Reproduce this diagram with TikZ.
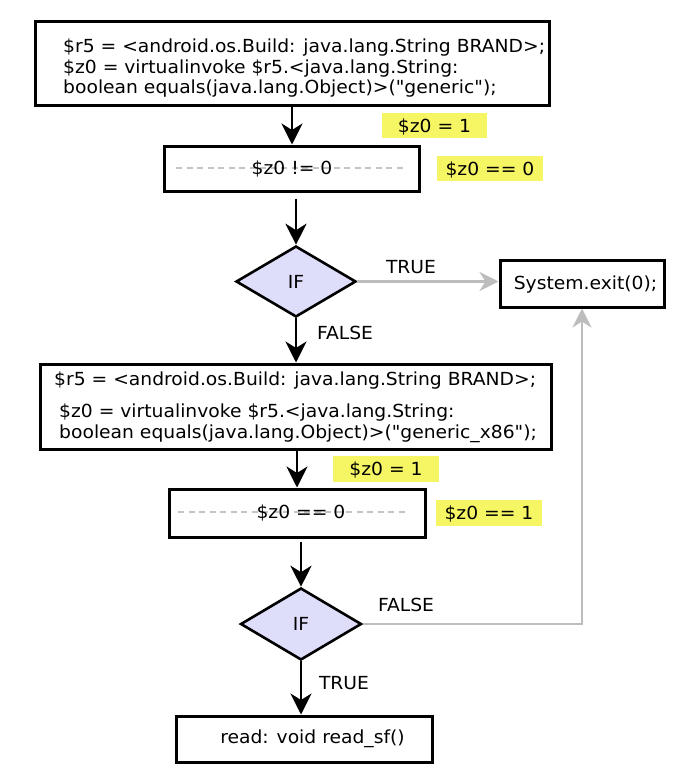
\documentclass[tikz,border=0pt]{standalone}
\usepackage{fontspec}
\setmainfont{DejaVu Sans}[FakeStretch=1.04, Ligatures=TeXOff]
\usetikzlibrary{arrows.meta,shapes.geometric}
\definecolor{hlyellow}{HTML}{F6F564}
\definecolor{iflav}{HTML}{DEDEFA}
\definecolor{lgray}{HTML}{BDBDBD}
\definecolor{dgray}{HTML}{C4C4C4}
\tikzset{
  box/.style={draw=black, line width=3pt, fill=white, inner sep=0pt},
  code/.style={anchor=base west, inner sep=0pt},
  ctext/.style={inner sep=0pt, text height=13.1pt, text depth=0pt},
  cond/.style={diamond, draw=black, line width=2.6pt, fill=iflav, inner sep=0pt,
    text height=13.1pt, text depth=0pt},
  hl/.style={fill=hlyellow, inner sep=0pt, text height=13.1pt, text depth=0pt},
  arr/.style={draw=black, line width=2.8pt, -{Stealth[length=21pt,width=21pt,inset=6.5pt]}},
  garr/.style={draw=lgray, line width=2.4pt, -{Stealth[length=19pt,width=19pt,inset=6pt]}},
  dashline/.style={draw=dgray, line width=2pt, dash pattern=on 6pt off 4.5pt},
}
\begin{document}
\begin{tikzpicture}[x=1pt, y=-1pt, font=\fontsize{18}{21}\selectfont]
\path[use as bounding box, fill=white] (0,0) rectangle (688,782);

% box 1
\node[box, minimum width=514pt, minimum height=84pt] (b1) at (292,63) {};
\node[code] (t1a) at (63,52) {\$r5 = <android.os.Build: java.lang.String BRAND>;};
\node[code] (t1b) at (63,73) {\$z0 = virtualinvoke \$r5.<java.lang.String:};
\node[code] (t1c) at (63,93) {boolean equals(java.lang.Object)>("generic");};

% label z0 = 1
\node[hl, minimum width=105pt, minimum height=25pt] (h1) at (434.5,125.5) {\$z0 = 1};

% box 2
\node[box, minimum width=255pt, minimum height=45pt] (b2) at (292,168.5) {};
\coordinate (d2a) at (176,168);
\coordinate (d2b) at (405,168);
\draw[dashline] (d2a) -- (d2b);
\node[ctext] (c2) at (292,168) {\$z0 != 0};
\node[hl, minimum width=106pt, minimum height=25pt] (h2) at (490,168.5) {\$z0 == 0};

% diamond 1
\node[cond, minimum width=120pt, minimum height=71pt] (d1) at (296,281.5) {IF};

% box 3
\node[box, minimum width=164pt, minimum height=47pt] (b3) at (582,283.5) {};
\node[ctext] (t3) at (585.5,283.3) {System.exit(0);};

% box 4
\node[box, minimum width=511pt, minimum height=85pt] (b4) at (295.5,406.5) {};
\node[code] (t4a) at (54,385) {\$r5 = <android.os.Build: java.lang.String BRAND>;};
\node[code] (t4b) at (59,417) {\$z0 = virtualinvoke \$r5.<java.lang.String:};
\node[code] (t4c) at (59,438) {boolean equals(java.lang.Object)>("generic\_x86");};

% label z0 = 1
\node[hl, minimum width=106pt, minimum height=26pt] (h3) at (386,469) {\$z0 = 1};

% box 5
\node[box, minimum width=256pt, minimum height=48pt] (b5) at (297,513) {};
\coordinate (d5a) at (178,512);
\coordinate (d5b) at (407,512);
\draw[dashline] (d5a) -- (d5b);
\node[ctext] (c5) at (301,512) {\$z0 == 0};
\node[hl, minimum width=106pt, minimum height=26pt] (h4) at (489,513) {\$z0 == 1};

% diamond 2
\node[cond, minimum width=121pt, minimum height=72pt] (d2) at (301,624) {IF};

% box 6
\node[box, minimum width=256pt, minimum height=46pt] (b6) at (304,739) {};
\node[ctext] (t6) at (312.5,737) {read: void read\_sf()};

% connectors
\draw[arr] (b1.south) -- (b2.north);
\draw[arr] ([yshift=-6pt]b2.south -| d1.north) -- (d1.north);
\draw[garr] (d1.east) -- (d1.east -| b3.west);
\draw[arr] (d1.south) -- (d1.south |- b4.north);
\draw[arr] (b4.south -| b5.north) -- (b5.north);
\draw[arr] ([yshift=-3pt]b5.south -| d2.north) -- (d2.north);
\draw[garr] (d2.east) -| (b3.south);
\draw[arr] (d2.south) -- (d2.south |- b6.north);

% edge labels
\node[ctext] (l1) at (411,266.7) {TRUE};
\node[ctext] (l2) at (345,333) {FALSE};
\node[ctext] (l3) at (406,605) {FALSE};
\node[ctext] (l4) at (344,683) {TRUE};
\end{tikzpicture}
\end{document}
